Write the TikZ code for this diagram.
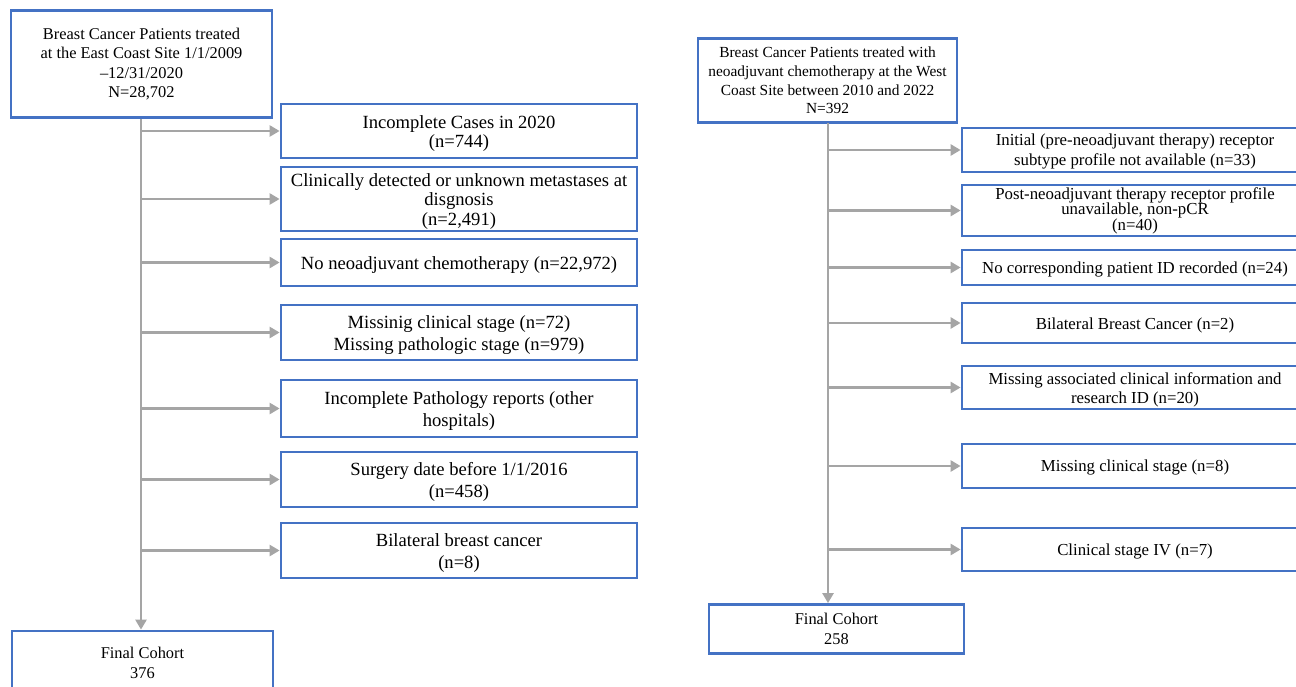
\documentclass[tikz,border=0pt]{standalone}
\usepackage{fontspec}
\setmainfont{Liberation Serif}
\usetikzlibrary{arrows.meta}
\definecolor{boxblue}{HTML}{4472C4}
\definecolor{arrgray}{HTML}{A5A5A5}
\newcommand\bigstrut{\rule{0pt}{17.9pt}}
\newcommand\midstrut{\rule{0pt}{15.6pt}}
\tikzset{
  flowbox/.style={draw=boxblue, line width=2.8pt, fill=white, align=center, inner sep=1pt, anchor=center},
  bigtxt/.style={font=\fontsize{18.6}{21.5}\selectfont},
  midtxt/.style={font=\fontsize{16.8}{20}\selectfont},
  smalltxt/.style={font=\fontsize{16.4}{19.5}\selectfont},
  flowarrow/.style={draw=arrgray, line width=2.8pt, -{Triangle[length=10pt,width=11pt]}}
}
\begin{document}
\begin{tikzpicture}[x=1pt,y=-1pt]
\useasboundingbox (0,0) rectangle (1296,687);
\begin{scope}
\clip (0,0) rectangle (1296,687);
% ---------------- left panel ----------------
\node[flowbox, smalltxt, minimum width=261pt, minimum height=107pt] (ltop) at (141.5,64)
  {Breast Cancer Patients treated\\at the East Coast Site 1/1/2009\\--12/31/2020\\N=28,702};
\node[flowbox, bigtxt, font=\fontsize{18.6}{19}\selectfont, minimum width=356pt, minimum height=54pt] (l1) at (459,131)
  {\bigstrut Incomplete Cases in 2020\\(n=744)};
\node[flowbox, bigtxt, font=\fontsize{18.6}{19.5}\selectfont, minimum width=356pt, minimum height=64pt] (l2) at (459,199)
  {\bigstrut Clinically detected or unknown metastases at\\disgnosis\\(n=2,491)};
\node[flowbox, bigtxt, minimum width=356pt, minimum height=47pt] (l3) at (459,262.5)
  {\bigstrut No neoadjuvant chemotherapy (n=22,972)};
\node[flowbox, bigtxt, minimum width=356pt, minimum height=55pt] (l4) at (459,332.5)
  {\bigstrut Missinig clinical stage (n=72)\\Missing pathologic stage (n=979)};
\node[flowbox, bigtxt, minimum width=356pt, minimum height=57pt] (l5) at (459,408.5)
  {\bigstrut Incomplete Pathology reports (other\\hospitals)};
\node[flowbox, bigtxt, minimum width=356pt, minimum height=55pt] (l6) at (459,479.5)
  {\bigstrut Surgery date before 1/1/2016\\(n=458)};
\node[flowbox, bigtxt, minimum width=356pt, minimum height=55pt] (l7) at (459,550.5)
  {\bigstrut Bilateral breast cancer\\(n=8)};
\node[flowbox, smalltxt, minimum width=261pt, minimum height=64pt] (lfin) at (142.5,663)
  {Final Cohort\\376};
\coordinate (ltrunk) at (141,119);
\draw[flowarrow] (ltrunk) -- (ltrunk |- lfin.north);
\foreach \b in {l1,l2,l3,l4,l5,l6,l7}{
  \draw[flowarrow] (ltrunk |- \b.west) -- (\b.west);
}
% ---------------- right panel ----------------
\node[flowbox, font=\fontsize{15.4}{18.7}\selectfont, minimum width=259pt, minimum height=84pt] (rtop) at (827.5,80.5)
  {Breast Cancer Patients treated with\\neoadjuvant chemotherapy at the West\\Coast Site between 2010 and 2022\\N=392};
\node[flowbox, midtxt, minimum width=346pt, minimum height=44pt] (r1) at (1135,150)
  {\midstrut Initial (pre-neoadjuvant therapy) receptor\\subtype profile not available (n=33)};
\node[flowbox, font=\fontsize{16.8}{15.5}\selectfont, minimum width=346pt, minimum height=51pt] (r2) at (1135,210.5)
  {Post-neoadjuvant therapy receptor profile\\unavailable, non-pCR\\(n=40)};
\node[flowbox, midtxt, minimum width=346pt, minimum height=35pt] (r3) at (1135,267.5)
  {\midstrut No corresponding patient ID recorded (n=24)};
\node[flowbox, midtxt, minimum width=346pt, minimum height=40pt] (r4) at (1135,323)
  {\midstrut Bilateral Breast Cancer (n=2)};
\node[flowbox, midtxt, font=\fontsize{16.8}{19}\selectfont, minimum width=346pt, minimum height=43pt] (r5) at (1135,387.5)
  {\midstrut Missing associated clinical information and\\research ID (n=20)};
\node[flowbox, midtxt, minimum width=346pt, minimum height=44pt] (r6) at (1135,466)
  {\midstrut Missing clinical stage (n=8)};
\node[flowbox, midtxt, minimum width=346pt, minimum height=43pt] (r7) at (1135,549.5)
  {\midstrut Clinical stage IV (n=7)};
\node[flowbox, smalltxt, minimum width=255pt, minimum height=49pt] (rfin) at (836.5,629)
  {Final Cohort\\258};
\coordinate (rtrunk) at (828,123);
\draw[flowarrow] (rtrunk) -- (rtrunk |- rfin.north);
\foreach \b in {r1,r2,r3,r4,r5,r6,r7}{
  \draw[flowarrow] (rtrunk |- \b.west) -- (\b.west);
}
\end{scope}
\end{tikzpicture}
\end{document}
